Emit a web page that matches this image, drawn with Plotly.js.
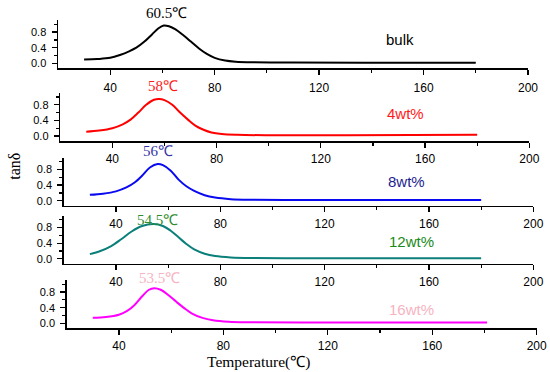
<!DOCTYPE html>
<html>
<head>
<meta charset="utf-8">
<script src="https://cdn.plot.ly/plotly-3.0.1.min.js"></script>
<style>html,body{margin:0;padding:0;background:#fff;}#chart{width:550px;height:372px;}</style>
</head>
<body>
<div id="chart"></div>
<script>
// ---- data ----
const seriesNames = ["bulk", "4wt%", "8wt%", "12wt%", "16wt%"];
const peakLabels = ["60.5℃", "58℃", "56℃", "54.5℃", "53.5℃"];

const tBulk = [30, 35, 40, 44, 47, 50, 53, 56, 58.5, 60.5, 62.5, 65, 68, 71, 74, 77, 80, 84, 88, 95, 110, 140, 180];
const vBulk = [0.10, 0.11, 0.14, 0.22, 0.30, 0.40, 0.55, 0.74, 0.90, 0.97, 0.95, 0.87, 0.72, 0.55, 0.38, 0.24, 0.14, 0.07, 0.04, 0.025, 0.02, 0.015, 0.015];

const t4 = [30, 35, 40, 44, 47, 50, 53, 56, 58, 60, 63, 66, 69, 72, 75, 78, 82, 88, 100, 130, 180];
const v4 = [0.11, 0.14, 0.20, 0.30, 0.42, 0.60, 0.80, 0.93, 0.95, 0.92, 0.80, 0.60, 0.42, 0.26, 0.16, 0.09, 0.05, 0.03, 0.02, 0.02, 0.03];

const t8 = [30, 35, 40, 44, 47, 50, 53, 56, 58, 61, 64, 67, 70, 74, 78, 84, 92, 110, 150, 180];
const v8 = [0.15, 0.18, 0.24, 0.34, 0.46, 0.64, 0.85, 0.94, 0.91, 0.77, 0.54, 0.37, 0.25, 0.14, 0.08, 0.04, 0.025, 0.02, 0.02, 0.02];

const t12 = [30, 34, 38, 42, 46, 50, 54.5, 58, 61, 64, 67, 70, 74, 78, 84, 92, 110, 150, 180];
const v12 = [0.12, 0.20, 0.32, 0.50, 0.70, 0.84, 0.89, 0.84, 0.72, 0.55, 0.38, 0.24, 0.13, 0.07, 0.035, 0.02, 0.015, 0.015, 0.015];

const t16 = [30, 35, 40, 43, 46, 49, 51.5, 53.5, 56, 59, 62, 65, 68, 72, 76, 82, 90, 110, 150, 181];
const v16 = [0.14, 0.16, 0.22, 0.31, 0.47, 0.70, 0.86, 0.90, 0.86, 0.72, 0.55, 0.39, 0.25, 0.14, 0.08, 0.04, 0.025, 0.02, 0.02, 0.02];

const xTickVals = [40, 80, 120, 160, 200];
const yTickVals = [0.0, 0.4, 0.8];

// ---- styling / layout ----
const W = 550, H = 372;
const lineColors = ["#000000", "#ff0000", "#0a0af0", "#0b7f7a", "#ff00ff"];
const peakColors = ["#000000", "#ff1a1a", "#3535a8", "#2e8b2e", "#f6b3c2"];
const nameColors = ["#000000", "#ff1a1a", "#1e1e90", "#1a8a1a", "#f6b3c2"];

// panel pixel geometry: [xLeft, xRight, yZeroPx]
const panels = [
  [58.0, 528.0, 63.3],
  [60.2, 529.3, 136.0],
  [63.8, 533.3, 200.7],
  [63.8, 533.3, 258.8],
  [66.7, 536.7, 323.3]
];
const yScale = 39; // px per unit
const yRange = [-0.13, 1.1];
const xRange = [20, 200];

const T = [tBulk, t4, t8, t12, t16];
const V = [vBulk, v4, v8, v12, v16];

const traces = [];
const layout = {
  width: W, height: H,
  margin: {l: 0, r: 0, t: 0, b: 0},
  paper_bgcolor: "#ffffff", plot_bgcolor: "rgba(0,0,0,0)",
  showlegend: false,
  annotations: []
};

const peakPos = [[166, 13], [162.5, 85.7], [158, 151], [157.5, 220], [159, 278]];
const namePos = [[399.5, 39], [405, 114], [406, 181], [411, 241.5], [411.7, 309]];

for (let i = 0; i < 5; i++) {
  const sfx = i === 0 ? "" : String(i + 1);
  const [xl, xr, y0] = panels[i];
  const top = y0 - yRange[1] * yScale;
  const bot = y0 - yRange[0] * yScale;
  traces.push({
    x: T[i], y: V[i], type: "scatter", mode: "lines",
    line: {color: lineColors[i], width: 2, shape: "spline", smoothing: 1},
    xaxis: "x" + sfx, yaxis: "y" + sfx, name: seriesNames[i],
    hoverinfo: "skip"
  });
  layout["xaxis" + sfx] = {
    domain: [xl / W, xr / W], anchor: "y" + sfx, range: xRange,
    showline: true, linecolor: "#000", linewidth: 1.5,
    ticks: "outside", ticklen: 5, tickwidth: 1.3, tickcolor: "#000",
    tickvals: xTickVals, ticklabelstandoff: i === 0 ? 3 : 1,
    minor: {tickvals: [60, 100, 140, 180], ticks: "outside", ticklen: 3, tickwidth: 1.2, tickcolor: "#000"},
    showgrid: false, zeroline: false,
    tickfont: {family: "Liberation Sans, Arial, sans-serif", size: 12, color: "#000"},
    fixedrange: true
  };
  layout["yaxis" + sfx] = {
    domain: [1 - bot / H, 1 - top / H], anchor: "x" + sfx, range: yRange,
    showline: true, linecolor: "#000", linewidth: 1.5,
    ticks: "outside", ticklen: 5, tickwidth: 1.3, tickcolor: "#000",
    tickvals: yTickVals, tickformat: ".1f", ticklabelstandoff: 3,
    minor: {tickvals: [0.2, 0.6, 1.0], ticks: "outside", ticklen: 3, tickwidth: 1.2, tickcolor: "#000"},
    showgrid: false, zeroline: false,
    tickfont: {family: "Liberation Sans, Arial, sans-serif", size: 11, color: "#000"},
    fixedrange: true
  };
  layout.annotations.push({
    text: peakLabels[i], xref: "paper", yref: "paper",
    x: peakPos[i][0] / W, y: 1 - peakPos[i][1] / H,
    xanchor: "center", yanchor: "middle", showarrow: false,
    font: {family: "Liberation Serif, Times New Roman, serif", size: 15, color: peakColors[i]}
  });
  layout.annotations.push({
    text: seriesNames[i], xref: "paper", yref: "paper",
    x: namePos[i][0] / W, y: 1 - namePos[i][1] / H,
    xanchor: "center", yanchor: "middle", showarrow: false,
    font: {family: "Liberation Sans, Arial, sans-serif", size: 15, color: nameColors[i]}
  });
}

// axis titles
layout.annotations.push({
  text: "Temperature(℃)", xref: "paper", yref: "paper",
  x: 258 / W, y: 1 - 361.5 / H, xanchor: "center", yanchor: "middle", showarrow: false,
  font: {family: "Liberation Serif, Times New Roman, serif", size: 15.5, color: "#000"}
});
layout.annotations.push({
  text: "tanδ", xref: "paper", yref: "paper", textangle: -90,
  x: 15 / W, y: 1 - 166.7 / H, xanchor: "center", yanchor: "middle", showarrow: false,
  font: {family: "Liberation Serif, Times New Roman, serif", size: 16, color: "#000"}
});

Plotly.newPlot("chart", traces, layout, {staticPlot: true, displayModeBar: false});
</script>
</body>
</html>
